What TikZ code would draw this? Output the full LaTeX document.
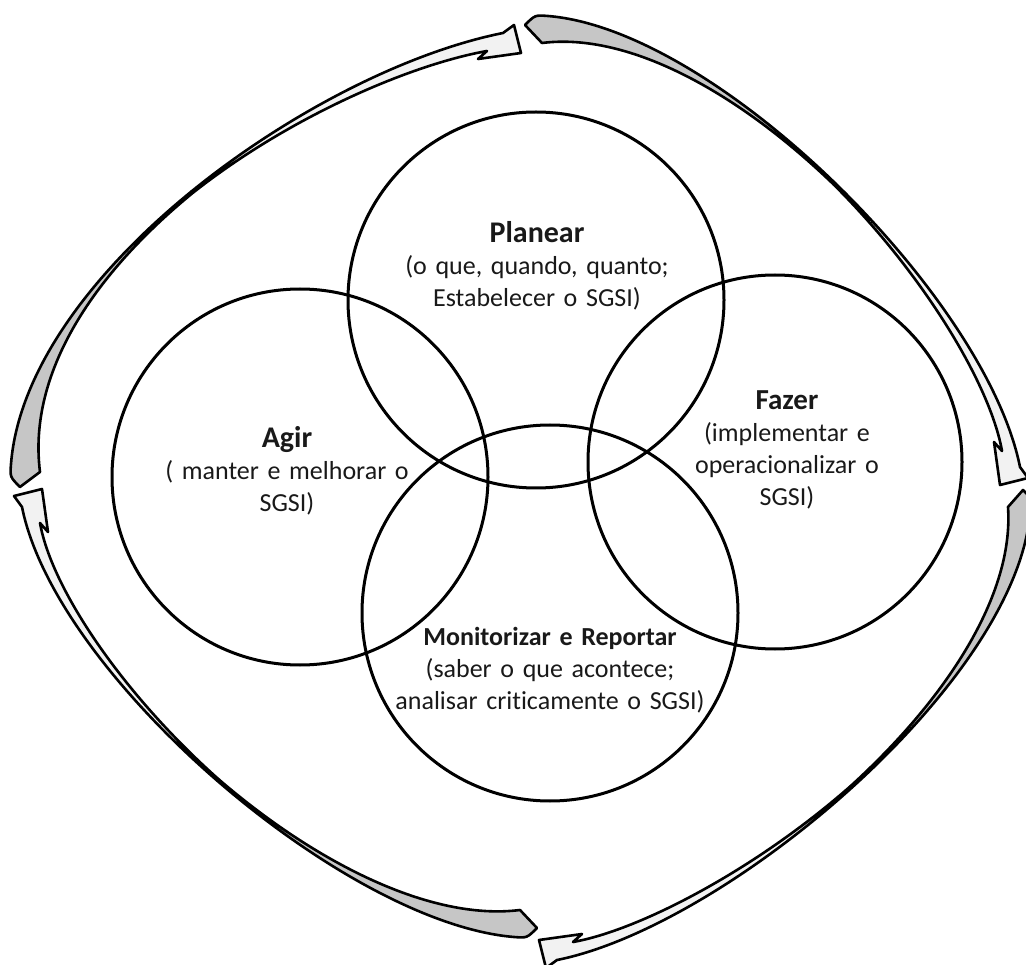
\documentclass[tikz,border=0pt]{standalone}
\usepackage{fontspec}
\setmainfont{Carlito}[Ligatures={NoCommon}]
\usetikzlibrary{calc}
\newcommand{\ringarrow}[1]{%
  \coordinate (#1Q1) at ($(#1H)!0.5!(#1P1)$);
  \coordinate (#1T)  at ($(#1P1)!0.5!(#1P2)$);
  \coordinate (#1R2) at ($(#1P2)!0.5!(#1E)$);
  \coordinate (#1Q2) at ($(#1Q1)!0.5!(#1T)$);
  \coordinate (#1R1) at ($(#1T)!0.5!(#1R2)$);
  \coordinate (#1M)  at ($(#1Q2)!0.5!(#1R1)$);
  \coordinate (#1Mi) at ($(#1M)!2pt!(ctr)$);
  \coordinate (#1Q1i) at ($(#1Q1)!9pt!(ctr)$);
  \coordinate (#1Q2i) at ($(#1Q2)!2.5pt!(ctr)$);
  \coordinate (#1R1i) at ($(#1R1)!4pt!(ctr)$);
  \coordinate (#1R2i) at ($(#1R2)!13pt!(ctr)$);
  \filldraw[darkpart] (#1P0) .. controls (#1K) .. (#1H) .. controls (#1Q1) and (#1Q2) .. (#1M) -- (#1Mi) .. controls (#1Q2i) and (#1Q1i) .. (#1S) -- cycle;
  \filldraw[lightpart] (#1M) .. controls (#1R1) and (#1R2) .. (#1E) -- (#1B1) -- (#1B2) -- (#1B3) -- (#1N) .. controls (#1R2i) and (#1R1i) .. (#1Mi) -- cycle;
}
\newcommand{\ttl}[2]{{\fontsize{#1}{32}\selectfont\bfseries #2}}
\begin{document}
\begin{tikzpicture}[x=1pt,y=-1pt,
  ring/.style={circle, draw=black, line width=3pt, inner sep=0pt, minimum size=376pt},
  lbl/.style={anchor=base, align=center, text width=340pt, inner sep=0pt, font=\fontsize{26}{32}\selectfont, text=black!90},
  darkpart/.style={fill=gray!45, draw=black, line width=2.6pt, line join=round},
  lightpart/.style={fill=gray!10, draw=black, line width=2.6pt, line join=round}]
\fill[white] (0,0) rectangle (1026,965);
\useasboundingbox (0,0) rectangle (1026,965);

% circles
\node[ring] (planear) at (536,300) {};
\node[ring] (agir) at (300,477) {};
\node[ring, minimum size=374pt] (fazer) at (775,462) {};
\node[ring] (monit) at (550,613) {};

% labels
\node[lbl] (planearT) at (537,243) {\ttl{30}{Planear}\\(o que, quando, quanto;\\Estabelecer o SGSI)};
\node[lbl] (agirT) at (287,448) {\ttl{30}{Agir}\\( manter e melhorar o\\SGSI)};
\node[lbl] (fazerT) at (787,410) {\ttl{29}{Fazer}\\(implementar e\\operacionalizar o\\SGSI)};
\node[lbl] (monitT) at (550,645) {\ttl{26}{Monitorizar e Reportar}\\(saber o que acontece;\\analisar criticamente o SGSI)};

% ring of arrows
\coordinate (ctr) at (526,487);
% A: left -> top
\coordinate (AP0) at (20,487); \coordinate (AK) at (10,477); \coordinate (AH) at (11,464); \coordinate (AS) at (40,472);
\coordinate (AP1) at (26,274); \coordinate (AP2) at (313,71); \coordinate (AE) at (503,33);
\coordinate (AB1) at (514,25); \coordinate (AB2) at (521,53); \coordinate (AB3) at (478,59); \coordinate (AN) at (487,51);
% B: top -> right
\coordinate (BP0) at (525,25); \coordinate (BK) at (535,15); \coordinate (BH) at (548,16); \coordinate (BS) at (542,43);
\coordinate (BP1) at (718,30); \coordinate (BP2) at (986,297); \coordinate (BE) at (1020,467);
\coordinate (BB1) at (1028,478); \coordinate (BB2) at (1000,485); \coordinate (BB3) at (994,442); \coordinate (BN) at (1002,451);
% C: right -> bottom
\coordinate (CP0) at (1023,490); \coordinate (CK) at (1031,498); \coordinate (CH) at (1030,513); \coordinate (CS) at (1008,507);
\coordinate (CP1) at (1016,683); \coordinate (CP2) at (727,926); \coordinate (CE) at (557,960);
\coordinate (CB1) at (546,968); \coordinate (CB2) at (539,940); \coordinate (CB3) at (582,934); \coordinate (CN) at (573,942);
% D: bottom -> left
\coordinate (DP0) at (537,928); \coordinate (DK) at (527,938); \coordinate (DH) at (514,937); \coordinate (DS) at (520,910);
\coordinate (DP1) at (344,923); \coordinate (DP2) at (56,677); \coordinate (DE) at (22,507);
\coordinate (DB1) at (14,496); \coordinate (DB2) at (42,489); \coordinate (DB3) at (48,532); \coordinate (DN) at (40,523);

\ringarrow{A}
\ringarrow{B}
\ringarrow{C}
\ringarrow{D}
\end{tikzpicture}
\end{document}
